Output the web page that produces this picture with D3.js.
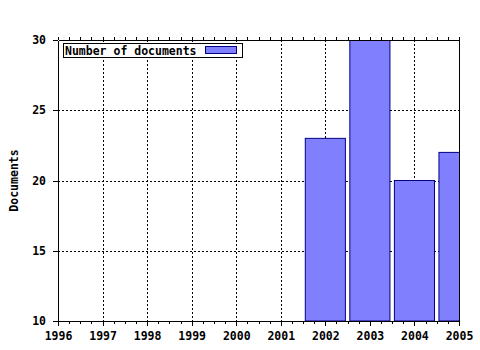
<!DOCTYPE html>
<html>
<head>
<meta charset="utf-8">
<script src="https://cdn.jsdelivr.net/npm/d3@7"></script>
<style>
  body { margin: 0; background: #fff; }
  text { font-family: "DejaVu Sans Mono", monospace; font-weight: bold; font-size: 11.5px; fill: #000; }
  .axis path, .axis line { stroke: #000; shape-rendering: crispEdges; }
  .grid line { stroke: #000; stroke-dasharray: 2,2; shape-rendering: crispEdges; }
</style>
</head>
<body>
<div id="chart"></div>
<script>
const yearTicks = [1996, 1997, 1998, 1999, 2000, 2001, 2002, 2003, 2004, 2005]
const barYears  = [2002, 2003, 2004, 2005]
const docCounts = [23, 30, 20, 22]
const yTicks    = [10, 15, 20, 25, 30]
const seriesName = "Number of documents"

const margin = {top: 40, right: 21, bottom: 29, left: 58}
const width  = 480 - margin.left - margin.right
const height = 350 - margin.top - margin.bottom

const x = d3.scaleLinear().domain([1996, 2005]).range([0, width])
const y = d3.scaleLinear().domain([10, 30]).range([height, 0])

const svg = d3.select("#chart").append("svg")
    .attr("width", 480)
    .attr("height", 350)

const g = svg.append("g")
    .attr("transform", "translate(" + margin.left + "," + margin.top + ")")

g.append("clipPath").attr("id", "plot-clip")
  .append("rect").attr("width", width).attr("height", height)

// dotted grid
g.append("g").attr("class", "grid")
  .selectAll("line").data(yearTicks.slice(1, -1)).join("line")
    .attr("x1", d => Math.round(x(d)) + 0.5).attr("x2", d => Math.round(x(d)) + 0.5)
    .attr("y1", 0).attr("y2", height)

g.append("g").attr("class", "grid")
  .selectAll("line").data(yTicks.slice(1, -1)).join("line")
    .attr("y1", d => Math.round(y(d)) + 0.5).attr("y2", d => Math.round(y(d)) + 0.5)
    .attr("x1", 0).attr("x2", width)

// bars, centred on the year, clipped to the plot
const barW = (x(1) - x(0)) * 0.9
g.append("g").attr("clip-path", "url(#plot-clip)")
  .selectAll("rect").data(barYears).join("rect")
    .attr("x", d => x(d) - barW / 2)
    .attr("y", (d, i) => y(docCounts[i]))
    .attr("width", barW)
    .attr("height", (d, i) => height - y(docCounts[i]))
    .attr("fill", "#8080ff")
    .attr("stroke", "#000080")
    .attr("stroke-width", 1)

// minor ticks every quarter year
const minorTicks = d3.range(1996, 2005.01, 0.25)

g.append("g").attr("class", "axis")
  .attr("transform", "translate(0," + height + ")")
  .call(d3.axisBottom(x).tickValues(minorTicks).tickSize(3).tickFormat(""))

g.append("g").attr("class", "axis")
  .call(d3.axisTop(x).tickValues(minorTicks).tickSize(3).tickSizeOuter(0).tickFormat(""))

g.append("g").attr("class", "axis")
  .attr("transform", "translate(0," + height + ")")
  .call(d3.axisBottom(x).tickValues(yearTicks).tickSize(5).tickSizeOuter(0).tickPadding(6).tickFormat(d3.format("d")))

g.append("g").attr("class", "axis")
  .call(d3.axisLeft(y).tickValues(yTicks).tickSize(5).tickSizeOuter(0).tickPadding(7))

g.append("g").attr("class", "axis")
  .attr("transform", "translate(" + width + ",0)")
  .call(d3.axisRight(y).tickValues([]).tickSizeOuter(0))

g.selectAll(".axis text").style("font-size", "11.5px")

// y label
svg.append("text")
  .attr("transform", "translate(18," + (margin.top + height / 2) + ") rotate(-90)")
  .attr("text-anchor", "middle")
  .text("Documents")

// legend
const legend = g.append("g").attr("transform", "translate(5,3)")
legend.append("rect")
  .attr("x", 0.5).attr("y", 0.5).attr("width", 179).attr("height", 14)
  .attr("fill", "#fff").attr("stroke", "#000")
legend.append("text").attr("x", 2).attr("y", 11.5).text(seriesName)
legend.append("rect")
  .attr("x", 142.5).attr("y", 3.5).attr("width", 31).attr("height", 7)
  .attr("fill", "#8080ff").attr("stroke", "#000080")
</script>
</body>
</html>
